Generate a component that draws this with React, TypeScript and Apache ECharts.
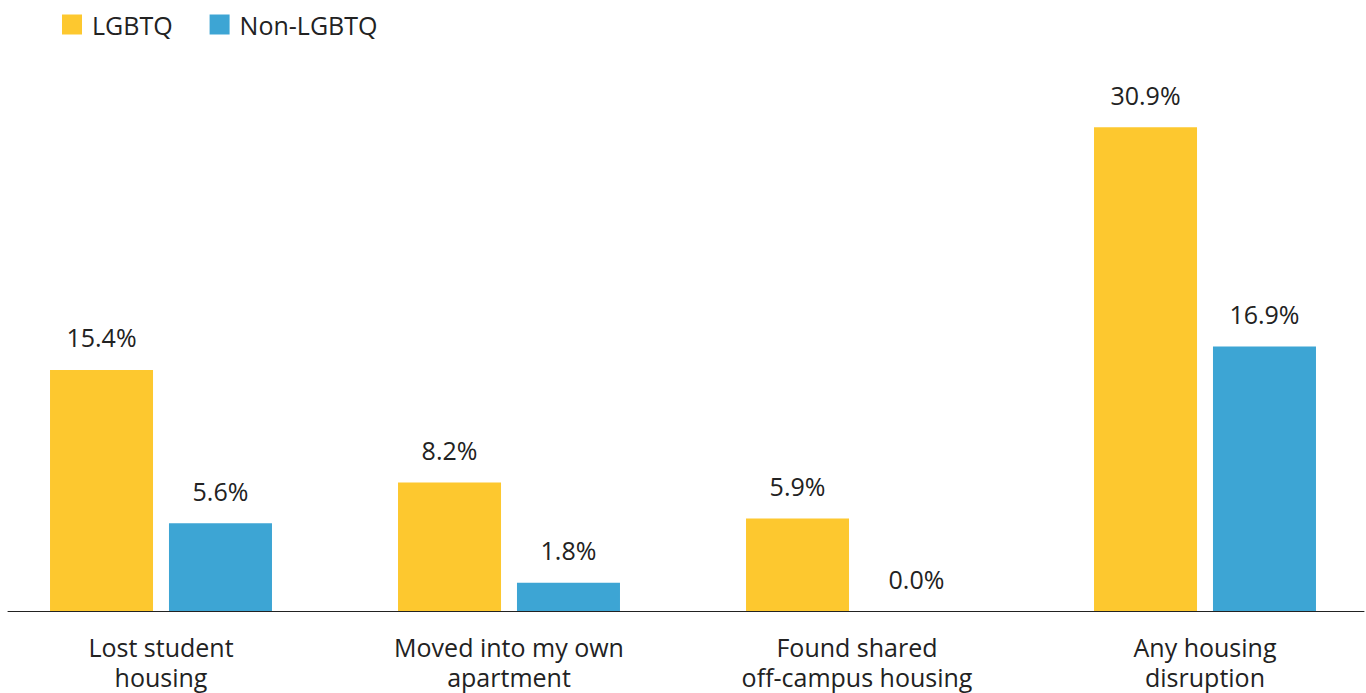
import React, { useEffect, useRef } from "react";
import * as echarts from "echarts";

const categories = [
  "Lost student\nhousing",
  "Moved into my own\napartment",
  "Found shared\noff-campus housing",
  "Any housing\ndisruption",
];
const lgbtq = [15.4, 8.2, 5.9, 30.9];
const nonLgbtq = [5.6, 1.8, 0.0, 16.9];
const seriesNames = ["LGBTQ", "Non-LGBTQ"];

const FONT = "'Open Sans', 'Noto Sans', sans-serif";

export default function App() {
  const ref = useRef<HTMLDivElement>(null);
  useEffect(() => {
    if (!ref.current) return;
    const chart = echarts.init(ref.current, null, { renderer: "svg" });
    const labelCfg = {
      show: true,
      position: "top",
      distance: 20,
      fontSize: 25,
      fontFamily: FONT,
      color: "#222",
      formatter: (p: any) => Number(p.value).toFixed(1) + "%",
    };
    chart.setOption({
      animation: false,
      textStyle: { fontFamily: FONT },
      legend: {
        left: 62,
        top: 12,
        padding: 0,
        itemWidth: 20,
        itemHeight: 20,
        itemGap: 37,
        icon: "rect",
        textStyle: { fontSize: 25, color: "#222", fontFamily: FONT, padding: [0, 0, 0, 5] },
        data: seriesNames,
      },
      grid: [
        { left: -13, right: -13, top: 63, bottom: 82, containLabel: false, outerBoundsMode: "none" },
        { left: 8, right: 2, top: 63, bottom: 82, containLabel: false, outerBoundsMode: "none" },
      ],
      xAxis: [
        {
          type: "category",
          gridIndex: 0,
          data: categories,
          axisLine: { show: false },
          axisTick: { show: false },
          axisLabel: {
            fontSize: 25,
            lineHeight: 30,
            color: "#222",
            fontFamily: FONT,
            margin: 21,
            interval: 0,
          },
        },
        {
          type: "category",
          gridIndex: 1,
          data: categories,
          axisLine: { show: true, lineStyle: { color: "#222", width: 1 } },
          axisTick: { show: false },
          axisLabel: { show: false },
        },
      ],
      yAxis: [
        { type: "value", gridIndex: 0, min: 0, max: 35, show: false, splitLine: { show: false } },
        { type: "value", gridIndex: 1, min: 0, max: 35, show: false, splitLine: { show: false } },
      ],
      series: [
        {
          name: seriesNames[0],
          type: "bar",
          data: lgbtq,
          barWidth: 103,
          barGap: "15.5%",
          itemStyle: { color: "#FDC82F" },
          label: labelCfg,
        },
        {
          name: seriesNames[1],
          type: "bar",
          data: nonLgbtq,
          barWidth: 103,
          barGap: "15.5%",
          itemStyle: { color: "#3DA5D4" },
          label: labelCfg,
        },
      ],
    });
    return () => chart.dispose();
  }, []);
  return (
    <div
      ref={ref}
      style={{ position: "fixed", left: 0, top: 0, width: 1366, height: 693, background: "#fff" }}
    />
  );
}
